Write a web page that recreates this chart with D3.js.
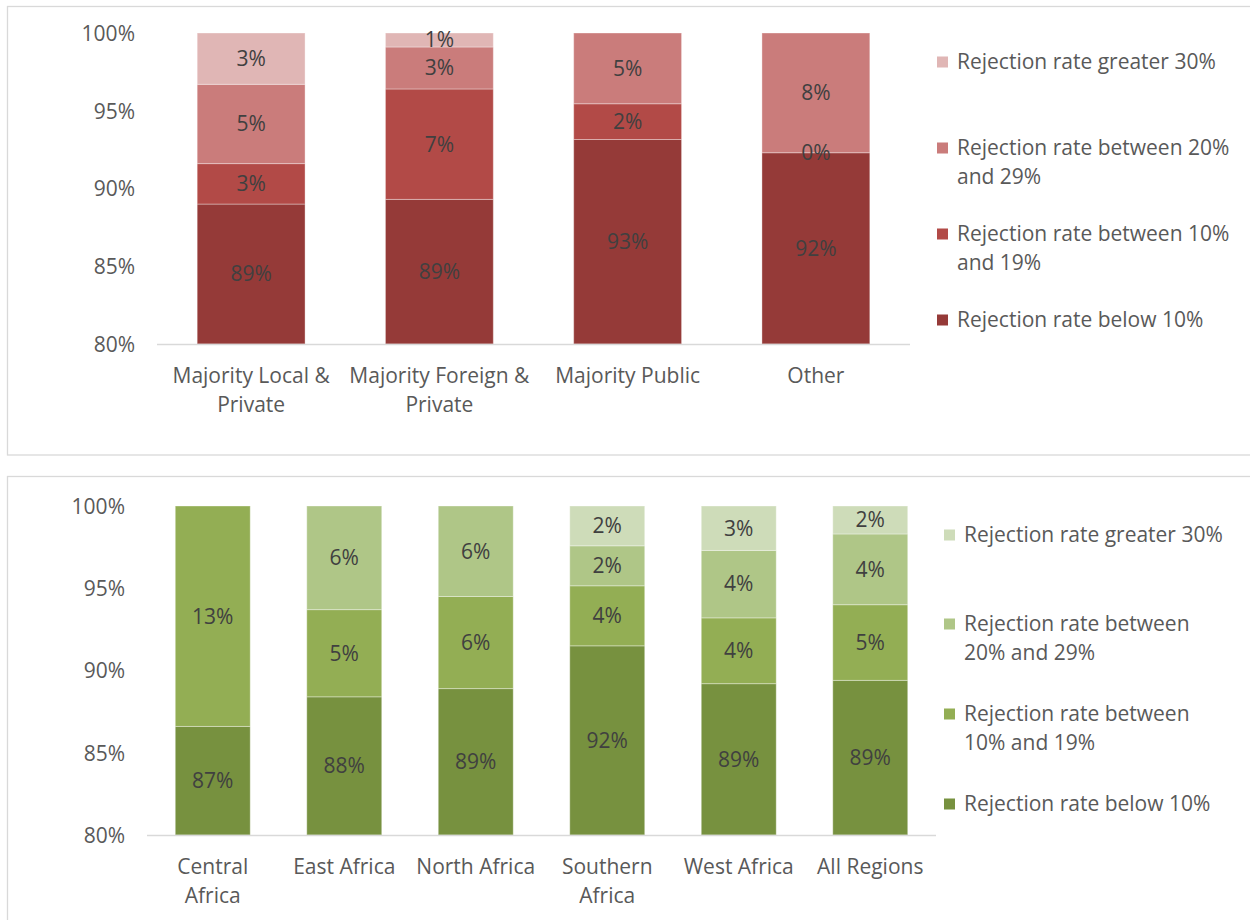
<!DOCTYPE html>
<html><head><meta charset="utf-8">
<script src="https://cdn.jsdelivr.net/npm/d3@7"></script>
<style>
html,body{margin:0;padding:0;background:#fff;overflow:hidden}
svg{display:block;font-family:"Open Sans",sans-serif}
</style></head>
<body><svg id="c" width="1250" height="920"></svg>
<script>
// ---------- Data ----------
const seriesNames = ["Rejection rate below 10%","Rejection rate between 10% and 19%","Rejection rate between 20% and 29%","Rejection rate greater 30%"];
const topLegendLines = [["Rejection rate below 10%"],["Rejection rate between 10%","and 19%"],["Rejection rate between 20%","and 29%"],["Rejection rate greater 30%"]];
const botLegendLines = [["Rejection rate below 10%"],["Rejection rate between","10% and 19%"],["Rejection rate between","20% and 29%"],["Rejection rate greater 30%"]];

const ownershipCats = [["Majority Local &","Private"],["Majority Foreign &","Private"],["Majority Public"],["Other"]];
const ownBelow10   = [89.0, 89.3, 93.15, 92.3];
const own10to19    = [2.6, 7.1, 2.3, 0.0];
const own20to29    = [5.1, 2.7, 4.55, 7.7];
const ownOver30    = [3.3, 0.9, 0.0, 0.0];

const regionCats = [["Central","Africa"],["East Africa"],["North Africa"],["Southern","Africa"],["West Africa"],["All Regions"]];
const regBelow10   = [86.6, 88.4, 88.9, 91.5, 89.2, 89.4];
const reg10to19    = [13.4, 5.3, 5.6, 3.65, 4.0, 4.6];
const reg20to29    = [0.0, 6.3, 5.5, 2.43, 4.1, 4.3];
const regOver30    = [0.0, 0.0, 0.0, 2.42, 2.7, 1.7];

const yTicks = [80, 85, 90, 95, 100];
const redColors = ["#953A38","#B24A47","#CA7C7B","#E0B6B5"];
const greenColors = ["#77913F","#93AE54","#AFC687","#CEDCB9"];

// ---------- Drawing ----------
const svg = d3.select("#c");

// panel borders
svg.append("rect").attr("x",7.5).attr("y",6.5).attr("width",1260).attr("height",448.5)
  .attr("fill","none").attr("stroke","#D9D9D9").attr("stroke-width",1.3);
svg.append("rect").attr("x",7.5).attr("y",476.5).attr("width",1260).attr("height",460)
  .attr("fill","none").attr("stroke","#D9D9D9").attr("stroke-width",1.3);

function drawChart(cfg){
  const g = svg.append("g");
  const x = d3.scaleBand().domain(cfg.cats.map((d,i)=>i)).range([cfg.x0,cfg.x1]).paddingInner(cfg.pad).paddingOuter(cfg.pad/2);
  const y = d3.scaleLinear().domain([80,100]).range([cfg.yBot,cfg.yTop]);
  const rows = cfg.cats.map((c,i)=>({i, below:cfg.s[0][i], b:cfg.s[1][i], c:cfg.s[2][i], d:cfg.s[3][i]}));
  const stack = d3.stack().keys(["below","b","c","d"])(rows);

  // y axis labels
  const ya = d3.axisLeft(y).tickValues(yTicks).tickFormat(d=>d+"%").tickSize(0).tickPadding(0);
  const yg = g.append("g").attr("transform",`translate(${cfg.yLabelX},0)`).call(ya);
  yg.select(".domain").remove();
  yg.selectAll("text").attr("fill","#595959").attr("font-size",cfg.fs).attr("font-family","Open Sans").attr("dy","0.35em");

  // bars
  stack.forEach((layer,k)=>{
    g.append("g").selectAll("rect").data(layer).join("rect")
      .attr("x",d=>x(d.data.i)).attr("width",x.bandwidth())
      .attr("y",d=>y(Math.min(100,d[1]))).attr("height",d=>Math.max(0,y(Math.max(80,d[0]))-y(Math.min(100,d[1]))))
      .attr("fill",cfg.colors[k]).attr("stroke","rgba(255,255,255,0.35)").attr("stroke-width",1);
  });
  // data labels
  stack.forEach((layer,k)=>{
    g.append("g").selectAll("text").data(layer.filter(d=>{
        const v=d[1]-d[0]; return v>0 || (cfg.zeroLabels && d.data.i===cfg.zeroLabels.i && k===cfg.zeroLabels.k);
      })).join("text")
      .attr("x",d=>x(d.data.i)+x.bandwidth()/2)
      .attr("y",d=>y((Math.max(80,d[0])+Math.min(100,d[1]))/2))
      .attr("dy","0.35em").attr("text-anchor","middle")
      .attr("fill","#404040").attr("font-size",cfg.fs)
      .text(d=>Math.round(d[1]-d[0])+"%");
  });

  // x axis line
  g.append("line").attr("x1",cfg.x0).attr("x2",cfg.x1).attr("y1",cfg.yBot+0.5).attr("y2",cfg.yBot+0.5)
    .attr("stroke","#D9D9D9").attr("stroke-width",1.3);
  // category labels
  const xa = g.append("g");
  cfg.cats.forEach((lines,i)=>{
    const t = xa.append("text").attr("x",x(i)+x.bandwidth()/2).attr("y",cfg.catY)
      .attr("text-anchor","middle").attr("fill","#595959").attr("font-size",cfg.fs);
    lines.forEach((l,j)=>t.append("tspan").attr("x",x(i)+x.bandwidth()/2).attr("dy",j?cfg.lh:"0.35em").text(l));
  });

  // legend (reverse order, top = greater 30%)
  const lg = g.append("g");
  [3,2,1,0].forEach((k,idx)=>{
    const yy = cfg.legY[idx];
    lg.append("rect").attr("x",cfg.legX).attr("y",yy-5.5).attr("width",11).attr("height",11).attr("fill",cfg.colors[k]);
    const t = lg.append("text").attr("x",cfg.legX+20).attr("y",yy)
      .attr("fill","#595959").attr("font-size",cfg.fs);
    cfg.legend[k].forEach((l,j)=>t.append("tspan").attr("x",cfg.legX+20).attr("dy",j?cfg.lh:"0.35em").text(l));
  });
}

drawChart({cats:ownershipCats, s:[ownBelow10,own10to19,own20to29,ownOver30], colors:redColors,
  x0:157, x1:910, pad:0.427, yTop:33, yBot:344, yLabelX:135, fs:21, catY:376, lh:29,
  legX:937, legY:[62,148,234,320], legend:topLegendLines, zeroLabels:{i:3,k:1}});

drawChart({cats:regionCats, s:[regBelow10,reg10to19,reg20to29,regOver30], colors:greenColors,
  x0:147, x1:936, pad:0.43, yTop:506, yBot:835, yLabelX:125, fs:21, catY:867, lh:29,
  legX:944, legY:[535,624,714,804], legend:botLegendLines});
</script></body></html>
